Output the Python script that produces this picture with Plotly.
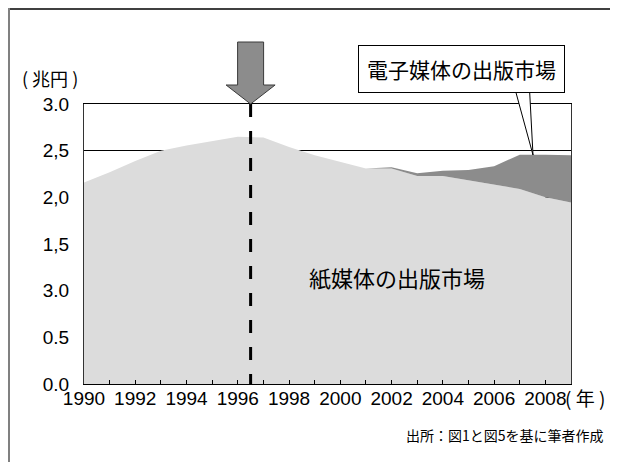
import plotly.graph_objects as go

years = list(range(1990, 2010))
paper_market = [2.16, 2.27, 2.39, 2.50, 2.555, 2.605, 2.65, 2.64, 2.54, 2.45,
                2.38, 2.31, 2.31, 2.228, 2.228, 2.18, 2.14, 2.09, 2.00, 1.945]
digital_market = [0, 0, 0, 0, 0, 0, 0, 0, 0, 0,
                  0, 0, 0.012, 0.03, 0.057, 0.113, 0.193, 0.367, 0.455, 0.505]
y_ticks = [0, 0.5, 1.0, 1.5, 2.0, 2.5, 3.0]
y_tick_labels = ["0.0", "0.5", "3.0", "1,5", "2,0", "2,5", "3.0"]
x_tick_labels = [str(y) if (y % 2 == 0 and y <= 2008) else "" for y in years]
peak_year = 1996.5

OFF = 8  # page body margin
W, H = 618 - 2 * OFF, 470 - 2 * OFF
ML = 84 - OFF
MT = 104 - OFF
MR = W - (571 - OFF)
MB = H - (384 - OFF)
PW, PH = W - ML - MR, H - MT - MB
XMIN, XMAX = 1990, 2009


def px(xpix):
    return (xpix - OFF - ML) / PW


def py(ypix):
    return (H - MB - (ypix - OFF)) / PH


NUM_FONT = "Liberation Sans, Arial, sans-serif"
JP_FONT = "Noto Sans CJK JP, sans-serif"

fig = go.Figure()
fig.add_trace(go.Scatter(x=years, y=paper_market, mode="lines", stackgroup="one",
                         line=dict(width=0), fillcolor="#dcdcdc", hoverinfo="skip",
                         name="紙媒体"))
fig.add_trace(go.Scatter(x=years, y=digital_market, mode="lines", stackgroup="one",
                         line=dict(width=0), fillcolor="#8c8c8c", hoverinfo="skip",
                         name="電子媒体"))

# peak marker (dashed line)
fig.add_shape(type="line", xref="x", yref="y", x0=peak_year, x1=peak_year, y0=3.0, y1=0,
              line=dict(color="black", width=3, dash="13px,14px"), layer="above")

# block arrow above the peak year
cx = (peak_year - XMIN) / (XMAX - XMIN)
sw, hw = 13 / PW, 24.5 / PW
tip, hb, top = 1.0, py(85), py(42)
arrow_path = (f"M {cx - sw} {top} L {cx + sw} {top} L {cx + sw} {hb} L {cx + hw} {hb} "
              f"L {cx} {tip} L {cx - hw} {hb} L {cx - sw} {hb} Z")
fig.add_shape(type="path", xref="paper", yref="paper", path=arrow_path,
              fillcolor="#8c8c8c", line=dict(color="#3a3a3a", width=1))

# callout wedge
wedge = (f"M {px(515)} {py(89)} L {px(533)} {py(155)} L {px(529.5)} {py(89)} Z")
fig.add_shape(type="path", xref="paper", yref="paper", path=wedge,
              fillcolor="white", line=dict(color="black", width=1))

# outer frame (top and left visible)
fig.add_shape(type="line", xref="paper", yref="paper", x0=px(OFF), x1=px(630),
              y0=py(OFF + 1), y1=py(OFF + 1), line=dict(color="#404040", width=2))
fig.add_shape(type="line", xref="paper", yref="paper", x0=px(OFF + 1), x1=px(OFF + 1),
              y0=py(OFF), y1=py(480), line=dict(color="#808080", width=2))

# callout box
fig.add_annotation(xref="paper", yref="paper", x=px(461), y=py(68.5), text="電子媒体の出版市場",
                   showarrow=False, font=dict(family=JP_FONT, size=21, color="black"),
                   bgcolor="white", bordercolor="black", borderwidth=1, borderpad=8,
                   xanchor="center", yanchor="middle")
fig.add_annotation(xref="x", yref="y", x=2002.2, y=1.15, text="紙媒体の出版市場",
                   showarrow=False, xanchor="center", yanchor="middle",
                   font=dict(family=JP_FONT, size=22, color="black"))
fig.add_annotation(xref="paper", yref="paper", x=px(50), y=py(78), text="( 兆円 )",
                   showarrow=False, xanchor="center", yanchor="middle",
                   font=dict(family=JP_FONT, size=18, color="black"))
fig.add_annotation(xref="paper", yref="paper", x=px(563), y=py(397), text="( 年 )",
                   showarrow=False, xanchor="left", yanchor="middle",
                   font=dict(family=JP_FONT, size=19, color="black"))
fig.add_annotation(xref="paper", yref="paper", x=px(606), y=py(435), text="出所：図1と図5を基に筆者作成",
                   showarrow=False, xanchor="right", yanchor="middle",
                   font=dict(family=JP_FONT, size=14, color="black"))

fig.update_layout(
    width=W, height=H, margin=dict(l=ML, r=MR, t=MT, b=MB),
    paper_bgcolor="white", plot_bgcolor="white", showlegend=False,
    xaxis=dict(range=[XMIN, XMAX], tickvals=years, ticktext=x_tick_labels,
               ticks="inside", ticklen=4, tickcolor="black", tickwidth=1,
               showgrid=False, zeroline=False, showline=True, linecolor="black",
               linewidth=1, mirror=True, ticklabelstandoff=-3,
               tickfont=dict(family=NUM_FONT, size=19, color="black")),
    yaxis=dict(range=[0, 3], tickvals=y_ticks, ticktext=y_tick_labels, ticks="",
               showgrid=True, gridcolor="black", gridwidth=1, zeroline=False,
               showline=True, linecolor="#333333", linewidth=1, mirror=True,
               ticklabelstandoff=10,
               tickfont=dict(family=NUM_FONT, size=19, color="black")),
)

fig.write_html("out.html", config={"displayModeBar": False})
